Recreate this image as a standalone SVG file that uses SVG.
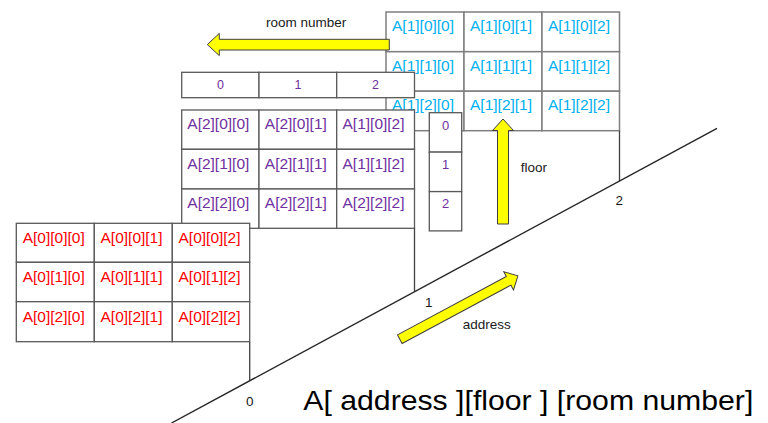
<svg xmlns="http://www.w3.org/2000/svg" width="768" height="423" viewBox="0 0 768 423">
<defs>
<style>
.cell{fill:#fff;stroke:#595959;stroke-width:1.3}
.cellb{fill:#fff;stroke:#7f7f7f;stroke-width:1.5}
.ln{fill:none;stroke:#404040;stroke-width:1.3}
.t{font-family:"Liberation Sans",Arial,sans-serif;font-size:15.5px}
.blue{fill:#00b0f0}
.purple{fill:#7030a0}
.red{fill:#ff0000}
.d{font-family:"Liberation Sans",Arial,sans-serif;font-size:12.5px;fill:#7030a0;text-anchor:middle}
.lab{font-family:"Liberation Sans",Arial,sans-serif;font-size:13.5px;fill:#1a1a1a}
.arr{fill:#ffff00;stroke:#3f3f3f;stroke-width:1}
</style>
</defs>
<rect width="768" height="423" fill="#fff"/>

<g id="layer1">
<rect class="cellb" x="386" y="12" width="78" height="39.7"/>
<rect class="cellb" x="464" y="12" width="78" height="39.7"/>
<rect class="cellb" x="542" y="12" width="77.5" height="39.7"/>
<rect class="cellb" x="386" y="51.7" width="78" height="39.5"/>
<rect class="cellb" x="464" y="51.7" width="78" height="39.5"/>
<rect class="cellb" x="542" y="51.7" width="77.5" height="39.5"/>
<rect class="cellb" x="386" y="91.2" width="78" height="39.5"/>
<rect class="cellb" x="464" y="91.2" width="78" height="39.5"/>
<rect class="cellb" x="542" y="91.2" width="77.5" height="39.5"/>
<line class="ln" x1="619.5" y1="130.7" x2="619.5" y2="181"/>
<g class="t blue">
<text x="392" y="31">A[1][0][0]</text><text x="470" y="31">A[1][0][1]</text><text x="548" y="31">A[1][0][2]</text>
<text x="392" y="70.8">A[1][1][0]</text><text x="470" y="70.8">A[1][1][1]</text><text x="548" y="70.8">A[1][1][2]</text>
<text x="392" y="109.5">A[1][2][0]</text><text x="470" y="109.5">A[1][2][1]</text><text x="548" y="109.5">A[1][2][2]</text>
</g>
</g>

<g id="header">
<rect class="cell" x="181.7" y="72.3" width="77.3" height="25.4"/>
<rect class="cell" x="259" y="72.3" width="77.7" height="25.4"/>
<rect class="cell" x="336.7" y="72.3" width="77.8" height="25.4"/>
<text class="d" x="220.4" y="88.8">0</text>
<text class="d" x="297.9" y="88.8">1</text>
<text class="d" x="375.6" y="88.8">2</text>
</g>

<g id="layer2">
<rect class="cell" x="181.7" y="110" width="77.3" height="39.3"/>
<rect class="cell" x="259" y="110" width="77.7" height="39.3"/>
<rect class="cell" x="336.7" y="110" width="77.8" height="39.3"/>
<rect class="cell" x="181.7" y="149.3" width="77.3" height="39.7"/>
<rect class="cell" x="259" y="149.3" width="77.7" height="39.7"/>
<rect class="cell" x="336.7" y="149.3" width="77.8" height="39.7"/>
<rect class="cell" x="181.7" y="189" width="77.3" height="39.3"/>
<rect class="cell" x="259" y="189" width="77.7" height="39.3"/>
<rect class="cell" x="336.7" y="189" width="77.8" height="39.3"/>
<line class="ln" x1="414.5" y1="228.3" x2="414.5" y2="291"/>
<g class="t purple">
<text x="187.3" y="129.3">A[2][0][0]</text><text x="264.8" y="129.3">A[2][0][1]</text><text x="342.5" y="129.3">A[1][0][2]</text>
<text x="187.3" y="168.8">A[2][1][0]</text><text x="264.8" y="168.8">A[2][1][1]</text><text x="342.5" y="168.8">A[1][1][2]</text>
<text x="187.3" y="208.3">A[2][2][0]</text><text x="264.8" y="208.3">A[2][2][1]</text><text x="342.5" y="208.3">A[2][2][2]</text>
</g>
</g>

<g id="floorIndex">
<rect class="cell" x="429.3" y="112.7" width="32.4" height="39.4"/>
<rect class="cell" x="429.3" y="152.1" width="32.4" height="39.5"/>
<rect class="cell" x="429.3" y="191.6" width="32.4" height="39.3"/>
<text class="d" style="font-size:13px" x="445.5" y="129.5">0</text>
<text class="d" style="font-size:13px" x="445.5" y="169">1</text>
<text class="d" style="font-size:13px" x="445.5" y="208.4">2</text>
</g>

<g id="layer0">
<rect class="cell" x="16.3" y="223.3" width="78" height="39"/>
<rect class="cell" x="94.3" y="223.3" width="78" height="39"/>
<rect class="cell" x="172.3" y="223.3" width="77.4" height="39"/>
<rect class="cell" x="16.3" y="262.3" width="78" height="39.4"/>
<rect class="cell" x="94.3" y="262.3" width="78" height="39.4"/>
<rect class="cell" x="172.3" y="262.3" width="77.4" height="39.4"/>
<rect class="cell" x="16.3" y="301.7" width="78" height="40"/>
<rect class="cell" x="94.3" y="301.7" width="78" height="40"/>
<rect class="cell" x="172.3" y="301.7" width="77.4" height="40"/>
<line class="ln" x1="249.7" y1="341.7" x2="249.7" y2="380.5"/>
<g class="t red">
<text x="22.7" y="243.3">A[0][0][0]</text><text x="100.5" y="243.3">A[0][0][1]</text><text x="178.5" y="243.3">A[0][0][2]</text>
<text x="22.7" y="282.3">A[0][1][0]</text><text x="100.5" y="282.3">A[0][1][1]</text><text x="178.5" y="282.3">A[0][1][2]</text>
<text x="22.7" y="321.8">A[0][2][0]</text><text x="100.5" y="321.8">A[0][2][1]</text><text x="178.5" y="321.8">A[0][2][2]</text>
</g>
</g>

<g id="connectors">
<line x1="171.5" y1="423" x2="717" y2="128.3" stroke="#262626" stroke-width="1.4"/>
<polygon class="arr" points="389.3,39.3 219.3,39.3 219.3,33.4 207.3,44.6 219.3,55.6 219.3,50 389.3,50"/>
<polygon class="arr" points="497.5,224 497.5,130.5 492.5,130.5 503,119 513.5,130.5 508.5,130.5 508.5,224"/>
<polygon class="arr" transform="translate(399.8,339.2) rotate(-28.2)" points="0,-4.9 123.5,-4.9 123.5,-10.3 134,0 123.5,10.3 123.5,4.9 0,4.9"/>
</g>

<g id="labels">
<text class="lab" x="266" y="26.7">room number</text>
<text class="lab" x="520.7" y="172.3">floor</text>
<text class="lab" x="462.7" y="329.3">address</text>
<text class="lab" x="425" y="306.5">1</text>
<text class="lab" x="615.5" y="205">2</text>
<text class="lab" x="246" y="406">0</text>
<text x="303.3" y="410" font-family="'Liberation Sans',Arial,sans-serif" font-size="28" fill="#000" textLength="450" lengthAdjust="spacingAndGlyphs">A[ address ][floor ] [room number]</text>
</g>
</svg>
